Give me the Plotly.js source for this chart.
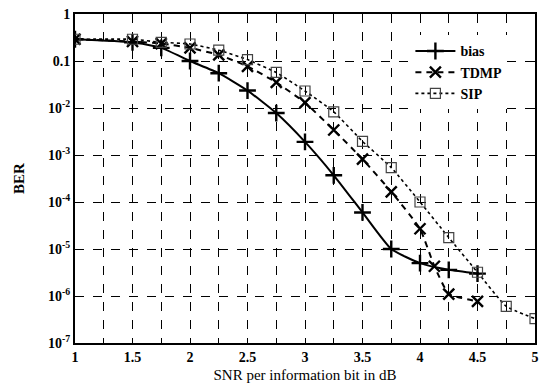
<!DOCTYPE html>
<html>
<head>
<meta charset="utf-8">
<script src="https://cdn.plot.ly/plotly-3.0.1.min.js"></script>
<style>html,body{margin:0;padding:0;background:#fff}#chart{width:539px;height:390px}</style>
</head>
<body>
<div id="chart"></div>
<script>
const xBias = [1, 1.5, 1.75, 2, 2.25, 2.5, 2.75, 3, 3.25, 3.5, 3.75, 4, 4.25, 4.5];
const berBias = [0.29, 0.25, 0.19, 0.1, 0.055, 0.0235, 0.0078, 0.0019, 3.7e-4, 6.0e-5, 1.0e-5, 5.0e-6, 3.6e-6, 3.0e-6];
const xTdmp = [1, 1.5, 1.75, 2, 2.25, 2.5, 2.75, 3, 3.25, 3.5, 3.75, 4, 4.125, 4.25, 4.5];
const berTdmp = [0.29, 0.26, 0.235, 0.19, 0.135, 0.077, 0.035, 0.013, 3.4e-3, 8.2e-4, 1.65e-4, 2.7e-5, 4.3e-6, 1.1e-6, 7.7e-7];
const xSip = [1, 1.5, 1.75, 2, 2.25, 2.5, 2.75, 3, 3.25, 3.5, 3.75, 4, 4.25, 4.5, 4.75, 5];
const berSip = [0.29, 0.29, 0.25, 0.23, 0.17, 0.107, 0.057, 0.023, 8.3e-3, 1.95e-3, 5.4e-4, 1.0e-4, 1.75e-5, 3.2e-6, 6.0e-7, 3.3e-7];
const seriesNames = ['bias', 'TDMP', 'SIP'];
const yTickVals = [1, 0.1, 1e-2, 1e-3, 1e-4, 1e-5, 1e-6, 1e-7];
const yTickText = ['1', '0.1', '10<sup>-2</sup>', '10<sup>-3</sup>', '10<sup>-4</sup>', '10<sup>-5</sup>', '10<sup>-6</sup>', '10<sup>-7</sup>'];
const xTickVals = [1, 1.5, 2, 2.5, 3, 3.5, 4, 4.5, 5];
const xTickText = ['1', '1.5', '2', '2.5', '3', '3.5', '4', '4.5', '5'];

const font = 'Liberation Serif';

const traces = [
  {x: xBias, y: berBias, name: seriesNames[0], mode: 'lines+markers', type: 'scatter',
   line: {color: '#000', width: 2, shape: 'spline', smoothing: 0.5},
   marker: {symbol: 'cross-thin-open', size: 12, color: '#000', line: {color: '#000', width: 2.4}}},
  {x: xTdmp, y: berTdmp, name: seriesNames[1], mode: 'lines+markers', type: 'scatter',
   line: {color: '#000', width: 2, dash: '6px,5px', shape: 'spline', smoothing: 0.4},
   marker: {symbol: 'x-thin-open', size: 11, color: '#000', line: {color: '#000', width: 2.4}}},
  {x: xSip, y: berSip, name: seriesNames[2], mode: 'lines+markers', type: 'scatter',
   line: {color: '#000', width: 1.6, dash: '3px,3px', shape: 'spline', smoothing: 0.4},
   marker: {symbol: 'square-open', size: 10, color: '#444', line: {color: '#444', width: 1.2}}}
];

const layout = {
  width: 539, height: 390,
  margin: {l: 75, r: 4, t: 14, b: 47},
  paper_bgcolor: '#fff', plot_bgcolor: '#fff',
  font: {family: font, size: 14, color: '#000'},
  showlegend: true,
  legend: {x: 0.94, y: 0.935, xanchor: 'right', yanchor: 'top', bgcolor: '#fff',
           font: {family: font, size: 14, color: '#000', weight: 'bold'}, tracegroupgap: 0,
           itemwidth: 40},
  xaxis: {
    range: [1, 5], tickvals: xTickVals, ticktext: xTickText,
    showline: true, linecolor: '#000', linewidth: 2, mirror: 'ticks',
    ticks: 'inside', ticklen: 5, tickcolor: '#000', tickwidth: 1,
    showgrid: true, gridcolor: '#000', griddash: 'dash', gridwidth: 1,
    minor: {dtick: 0.25, tick0: 1, showgrid: true, gridcolor: '#000', griddash: 'dash', gridwidth: 1, ticks: 'inside', ticklen: 5, tickcolor: '#000'},
    zeroline: false, tickfont: {family: font, size: 14, weight: 'bold'},
    title: {text: 'SNR per information bit in dB', font: {family: font, size: 15}, standoff: 6}
  },
  yaxis: {
    type: 'log', range: [-7, 0], tickvals: yTickVals, ticktext: yTickText,
    showline: true, linecolor: '#000', linewidth: 2, mirror: 'ticks',
    ticks: 'inside', ticklen: 5, tickcolor: '#000', tickwidth: 1,
    showgrid: true, gridcolor: '#000', griddash: 'dash', gridwidth: 1,
    zeroline: false, tickfont: {family: font, size: 14, weight: 'bold'},
    title: {text: 'BER', font: {family: font, size: 15, weight: 'bold'}, standoff: 20}
  }
};

Plotly.newPlot('chart', traces, layout, {staticPlot: true, displayModeBar: false});
</script>
</body>
</html>
